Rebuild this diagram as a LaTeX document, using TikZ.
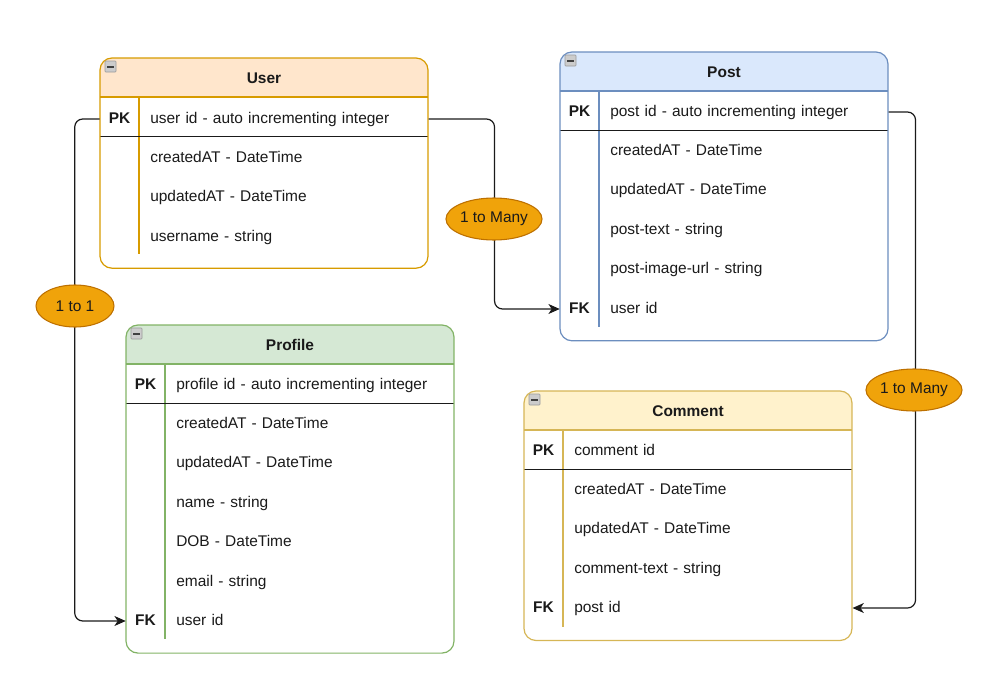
\documentclass[tikz,border=0pt]{standalone}
\usepackage{fontspec}
\setmainfont{Liberation Sans}
\usetikzlibrary{arrows.meta,shapes.geometric}
\definecolor{userfill}{HTML}{FFE6CC}
\definecolor{userline}{HTML}{D79B00}
\definecolor{postfill}{HTML}{DAE8FC}
\definecolor{postline}{HTML}{6C8EBF}
\definecolor{proffill}{HTML}{D5E8D4}
\definecolor{profline}{HTML}{82B366}
\definecolor{commfill}{HTML}{FFF2CC}
\definecolor{commline}{HTML}{D6B656}
\definecolor{cardfill}{HTML}{F0A30A}
\definecolor{cardline}{HTML}{BD7000}
\definecolor{inkcol}{HTML}{1A1A1A}
% table frame: x, y, rows below PK, fill, line, title, name
\newcommand{\ertable}[7]{%
  \pgfmathsetmacro{\tabh}{53+39.3*(#3+1)}
  \begin{scope}
    \clip[rounded corners=9pt] (#1,#2) rectangle ++(328,\tabh);
    \fill[#4] (#1,#2) rectangle ++(328,39);
  \end{scope}
  \draw[#5, line width=0.9pt] (#1,{#2+39}) -- ++(328,0);
  \draw[#5, line width=0.9pt] ({#1+39},{#2+39}) -- ++(0,{39.3*(#3+1)});
  \draw[inkcol, line width=0.9pt] (#1,{#2+78.3}) -- ++(328,0);
  \draw[#5, line width=0.9pt, rounded corners=9pt] (#1,#2) rectangle ++(328,\tabh);
  \draw[gray!80, fill=gray!40, rounded corners=0.5pt] ({#1+5},{#2+3}) rectangle ++(11,11);
  \draw[black!75, line width=1.5pt] ({#1+7},{#2+8.5}) -- ++(7,0);
  \node[key] (#7) at ({#1+164},{#2+21}) {#6};
}

\begin{document}
\begin{tikzpicture}[x=0.75pt, y=-0.75pt,
    every node/.style={text=inkcol, font=\fontsize{11.6}{14}\selectfont},
    key/.style={font=\fontsize{11.6}{14}\selectfont\bfseries, minimum width=29.25pt,
                inner sep=0pt, text height=8.5pt, text depth=2.5pt},
    field/.style={anchor=west, text width=208.5pt, inner sep=0pt, align=left,
                  text height=8.5pt, text depth=2.5pt},
    card/.style={ellipse, fill=cardfill, draw=cardline, line width=0.8pt,
                 minimum width=58.5pt, minimum height=31.5pt, inner sep=0pt},
    conn/.style={draw=inkcol, line width=0.9pt, rounded corners=6pt,
                 -{Stealth[length=8.5pt,width=7.5pt,inset=2.5pt]}},
  ]
  \useasboundingbox (0,0) rectangle (993,696);

  \ertable{100}{58}{3}{userfill}{userline}{User}{user}
  \ertable{560}{52}{5}{postfill}{postline}{Post}{post}
  \ertable{126}{325}{6}{proffill}{profline}{Profile}{profile}
  \ertable{524}{391}{4}{commfill}{commline}{Comment}{comment}

  % User
  \node[key] (user-pk) at (119.5,119) {PK};
  \node[field] (user-id) at (150,119) {user id - auto incrementing integer};
  \foreach \t [count=\i] in {createdAT - DateTime, updatedAT - DateTime, username - string}
    \node[field] (user-\i) at (150,{119+39.4*\i}) {\t};

  % Post
  \node[key] (post-pk) at (579.5,112) {PK};
  \node[field] (post-id) at (610,112) {post id - auto incrementing integer};
  \foreach \t [count=\i] in {createdAT - DateTime, updatedAT - DateTime, post-text - string, post-image-url - string}
    \node[field] (post-\i) at (610,{112+39.4*\i}) {\t};
  \node[key] (post-fk) at (579.5,309) {FK};
  \node[field] (post-uid) at (610,309) {user id};

  % Profile
  \node[key] (profile-pk) at (145.5,385) {PK};
  \node[field] (profile-id) at (176,385) {profile id - auto incrementing integer};
  \foreach \t [count=\i] in {createdAT - DateTime, updatedAT - DateTime, name - string, DOB - DateTime, email - string}
    \node[field] (profile-\i) at (176,{385+39.4*\i}) {\t};
  \node[key] (profile-fk) at (145.5,621) {FK};
  \node[field] (profile-uid) at (176,621) {user id};

  % Comment
  \node[key] (comment-pk) at (543.5,451) {PK};
  \node[field] (comment-id) at (574,451) {comment id};
  \foreach \t [count=\i] in {createdAT - DateTime, updatedAT - DateTime, comment-text - string}
    \node[field] (comment-\i) at (574,{451+39.4*\i}) {\t};
  \node[key] (comment-fk) at (543.5,608) {FK};
  \node[field] (comment-pid) at (574,608) {post id};

  % relations
  \draw[conn] (user-pk.west) -- ++(-25,0) |- (profile-fk.west);
  \draw[conn] (user-id.east) -- ++(66,0) |- (post-fk.west);
  \draw[conn] (post-id.east) -- ++(27,0) |- (comment-pid.east);
  \node[card] (one-one) at (75,306) {1 to 1};
  \node[card] (user-post) at (494,219) {1 to Many};
  \node[card] (post-comment) at (914,390) {1 to Many};
\end{tikzpicture}
\end{document}
